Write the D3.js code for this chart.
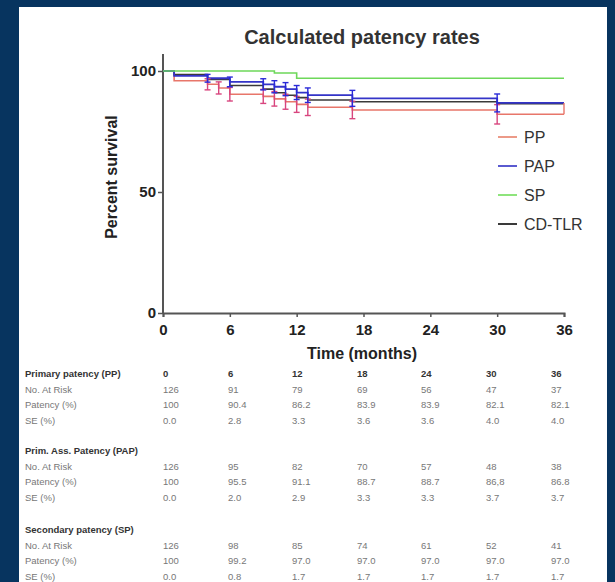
<!DOCTYPE html>
<html>
<head>
<meta charset="utf-8">
<script src="https://cdn.jsdelivr.net/npm/d3@7"></script>
<style>
  body { margin: 0; background: #07345f; }
  svg { display: block; }
</style>
</head>
<body>
<div id="chart"></div>
<script>
// Kaplan-Meier step curves (months, percent)
const ppTimes = [0, 1, 4, 5, 6, 9, 10, 11, 12, 13, 17, 30, 36];
const ppValues = [100, 96, 94.5, 93, 90.4, 89.5, 88.5, 87.3, 86.2, 85, 83.9, 82.1, 82.1];
const papTimes = [0, 1, 4, 6, 9, 10, 11, 12, 13, 17, 30, 36];
const papValues = [100, 98, 97, 95.5, 94.5, 93.5, 92.5, 91.1, 90, 88.7, 86.8, 86.8];
const spTimes = [0, 10, 12, 36];
const spValues = [100, 99.2, 97, 97];
const cdTimes = [0, 1, 4, 6, 9, 10, 11, 12, 13, 17, 30, 36];
const cdValues = [100, 98.5, 96.5, 94, 92.5, 91, 90, 89, 88, 87.3, 86.5, 86.5];

// error bars (time, centre, half width in %)
const ppErrTimes = [4, 5, 6, 9, 10, 11, 12, 13, 17, 30];
const ppErrCentre = [94.5, 93, 90.4, 89.5, 88.5, 87.3, 86.2, 85, 83.9, 82.1];
const ppErrHalf = [2.3, 2.5, 2.8, 2.9, 3.0, 3.1, 3.3, 3.4, 3.6, 4.0];
const papErrTimes = [4, 6, 9, 10, 11, 12, 13, 17, 30];
const papErrCentre = [97, 95.5, 94.5, 93.5, 92.5, 91.1, 90, 88.7, 86.8];
const papErrHalf = [1.6, 2.0, 2.3, 2.5, 2.7, 2.9, 3.0, 3.3, 3.7];

const xTicks = [0, 6, 12, 18, 24, 30, 36];
const yTicks = [0, 50, 100];
const legendNames = ["PP", "PAP", "SP", "CD-TLR"];

// table under the chart
const tableCols = ["0", "6", "12", "18", "24", "30", "36"];
const ppRisk = ["126", "91", "79", "69", "56", "47", "37"];
const ppPatency = ["100", "90.4", "86.2", "83.9", "83.9", "82.1", "82.1"];
const ppSE = ["0.0", "2.8", "3.3", "3.6", "3.6", "4.0", "4.0"];
const papRisk = ["126", "95", "82", "70", "57", "48", "38"];
const papPatency = ["100", "95.5", "91.1", "88.7", "88.7", "86,8", "86.8"];
const papSE = ["0.0", "2.0", "2.9", "3.3", "3.3", "3.7", "3.7"];
const spRisk = ["126", "98", "85", "74", "61", "52", "41"];
const spPatency = ["100", "99.2", "97.0", "97.0", "97.0", "97.0", "97.0"];
const spSE = ["0.0", "0.8", "1.7", "1.7", "1.7", "1.7", "1.7"];

const width = 615;
const height = 582;

const svg = d3.select("#chart").append("svg")
    .attr("width", width)
    .attr("height", height);

// white panel on the navy slide
svg.append("rect")
    .attr("x", 19).attr("y", 7)
    .attr("width", 588).attr("height", 580)
    .attr("fill", "#ffffff");

const x = d3.scaleLinear().domain([0, 36]).range([163, 564]);
const y = d3.scaleLinear().domain([0, 100]).range([313, 71]);

const font = "'Liberation Sans', Arial, sans-serif";

// title
svg.append("text")
    .attr("x", 362).attr("y", 44)
    .attr("text-anchor", "middle")
    .attr("font-family", font)
    .attr("font-weight", "bold")
    .attr("font-size", 20)
    .attr("fill", "#333")
    .text("Calculated patency rates");

// axes
const axisColor = "#555";
const xAxis = svg.append("g")
    .attr("transform", "translate(0," + y(0) + ")")
    .call(d3.axisBottom(x).tickValues(xTicks).tickSize(4).tickPadding(7));
const yAxis = svg.append("g")
    .attr("transform", "translate(" + x(0) + ",0)")
    .call(d3.axisLeft(y).tickValues(yTicks).tickSize(5).tickPadding(2));

yAxis.select(".domain").attr("d", "M0," + y(0) + "V" + y(107));

[xAxis, yAxis].forEach(function(g) {
  g.select(".domain").attr("stroke", axisColor).attr("stroke-width", 2);
  g.selectAll(".tick line").attr("stroke", axisColor).attr("stroke-width", 1.5);
  g.selectAll(".tick text")
    .attr("font-family", font)
    .attr("font-weight", "bold")
    .attr("font-size", 15)
    .attr("fill", "#222");
});

svg.append("text")
    .attr("x", 362).attr("y", 359)
    .attr("text-anchor", "middle")
    .attr("font-family", font)
    .attr("font-weight", "bold")
    .attr("font-size", 16)
    .attr("fill", "#222")
    .text("Time (months)");

svg.append("text")
    .attr("transform", "translate(117,177) rotate(-90)")
    .attr("text-anchor", "middle")
    .attr("font-family", font)
    .attr("font-weight", "bold")
    .attr("font-size", 16)
    .attr("fill", "#222")
    .text("Percent survival");

// curves
const step = d3.line()
    .x(d => x(d[0]))
    .y(d => y(d[1]))
    .curve(d3.curveStepAfter);

const series = [
  { times: ppTimes, values: ppValues, color: "#e8766a", w: 1.6 },
  { times: cdTimes, values: cdValues, color: "#3a3a3a", w: 1.6 },
  { times: papTimes, values: papValues, color: "#3434c8", w: 1.8 },
  { times: spTimes, values: spValues, color: "#6ed85a", w: 1.6 }
];

series.forEach(function(s) {
  svg.append("path")
    .datum(s.times.map((t, i) => [t, s.values[i]]))
    .attr("d", step)
    .attr("fill", "none")
    .attr("stroke", s.color)
    .attr("stroke-width", s.w);
});

// error bars
function errorBars(times, centre, half, color) {
  const g = svg.append("g")
    .attr("stroke", color)
    .attr("stroke-width", 1.4);
  times.forEach(function(t, i) {
    const cx = x(t);
    const top = y(centre[i] + half[i]);
    const bot = y(centre[i] - half[i]);
    g.append("line").attr("x1", cx).attr("x2", cx).attr("y1", top).attr("y2", bot);
    g.append("line").attr("x1", cx - 3).attr("x2", cx + 3).attr("y1", top).attr("y2", top);
    g.append("line").attr("x1", cx - 3).attr("x2", cx + 3).attr("y1", bot).attr("y2", bot);
  });
}
errorBars(ppErrTimes, ppErrCentre, ppErrHalf, "#d8457e");
errorBars(papErrTimes, papErrCentre, papErrHalf, "#2a2ad8");

// end of follow-up drop at 36 months
svg.append("line")
    .attr("x1", x(36)).attr("x2", x(36))
    .attr("y1", y(papValues[papValues.length - 1])).attr("y2", y(ppValues[ppValues.length - 1]))
    .attr("stroke", "#e8766a")
    .attr("stroke-width", 1.4);

// legend
const legendColors = ["#ec9a88", "#5a5ad0", "#8ee47c", "#3a3a3a"];
const legend = svg.append("g").attr("transform", "translate(498,137)");
legendNames.forEach(function(name, i) {
  const row = legend.append("g").attr("transform", "translate(0," + (i * 29) + ")");
  row.append("line")
    .attr("x1", 0).attr("x2", 19)
    .attr("y1", 0).attr("y2", 0)
    .attr("stroke", legendColors[i])
    .attr("stroke-width", 2);
  row.append("text")
    .attr("x", 26).attr("y", 6)
    .attr("font-family", font)
    .attr("font-size", 16)
    .attr("fill", "#333")
    .text(name);
});

// patency table
const colX = [163, 228, 292, 357, 421, 486, 551];
const blocks = [
  { title: "Primary patency (PP)", head: tableCols, rows: [ppRisk, ppPatency, ppSE], y: 377 },
  { title: "Prim. Ass. Patency (PAP)", head: null, rows: [papRisk, papPatency, papSE], y: 454 },
  { title: "Secondary patency (SP)", head: null, rows: [spRisk, spPatency, spSE], y: 533 }
];
const rowNames = ["No. At Risk", "Patency (%)", "SE (%)"];
const rowStep = 15.5;

blocks.forEach(function(b) {
  const g = svg.append("g").attr("font-family", font).attr("font-size", 9.5);
  g.append("text")
    .attr("x", 25).attr("y", b.y)
    .attr("font-weight", "bold")
    .attr("fill", "#333")
    .text(b.title);
  if (b.head) {
    b.head.forEach(function(h, j) {
      g.append("text")
        .attr("x", colX[j]).attr("y", b.y)
        .attr("font-weight", "bold")
        .attr("fill", "#333")
        .text(h);
    });
  }
  b.rows.forEach(function(r, i) {
    const ry = b.y + (i + 1) * rowStep;
    g.append("text")
      .attr("x", 25).attr("y", ry)
      .attr("fill", "#777")
      .text(rowNames[i]);
    r.forEach(function(v, j) {
      g.append("text")
        .attr("x", colX[j]).attr("y", ry)
        .attr("fill", "#777")
        .text(v);
    });
  });
});
</script>
</body>
</html>
